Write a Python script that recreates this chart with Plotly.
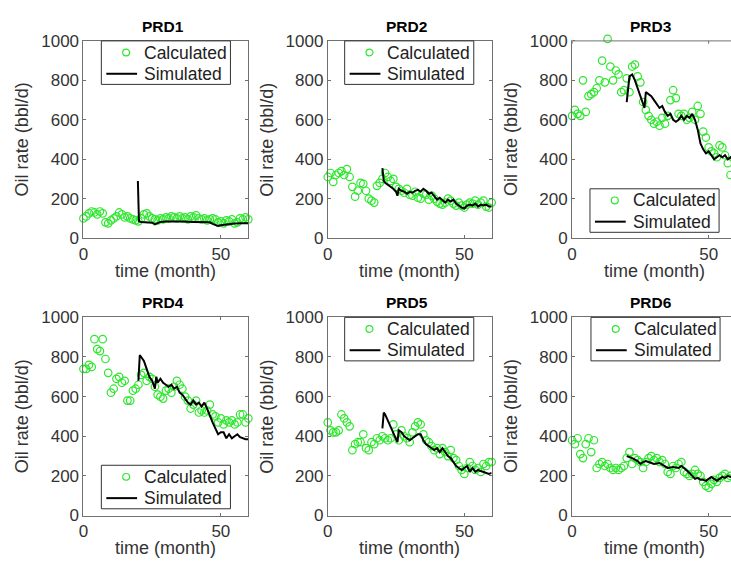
import plotly.graph_objects as go

W, H = 731, 570

names = ["PRD1", "PRD2", "PRD3", "PRD4", "PRD5", "PRD6"]
series_names = ["Calculated", "Simulated"]
t_calc = list(range(0, 61))

calc1 = [100, 110, 125, 135, 130, 120, 135, 125, 80, 75, 90, 100, 110, 130, 120, 105, 110, 100, 95, 90,
         85, 100, 120, 125, 110, 100, 95, 90, 100, 95, 105, 100, 110, 105, 100, 110, 100, 105, 95, 110,
         105, 115, 100, 95, 100, 90, 95, 100, 95, 80, 85, 75, 90, 85, 95, 75, 80, 100, 95, 105, 95]
calc2 = [310, 330, 285, 320, 330, 340, 320, 350, 310, 260, 210, 240, 280, 275, 240, 200, 190, 180, 265, 280,
         300, 330, 310, 290, 300, 260, 250, 240, 230, 250, 220, 215, 235, 205, 200, 225, 220, 195, 215, 200,
         185, 175, 170, 180, 200, 190, 175, 165, 180, 165, 155, 170, 180, 175, 190, 170, 180, 190, 160, 155, 180]
calc3 = [620, 650, 630, 620, 800, 640, 720, 730, 740, 760, 800, 900, 790, 1010, 870, 800, 850, 830, 740, 750,
         810, 740, 870, 880, 820, 790, 690, 650, 620, 600, 580, 590, 570, 610, 580, 620, 700, 750, 710, 630,
         620, 630, 600, 610, 640, 600, 670, 630, 540, 510, 460, 440, 430, 410, 470, 460, 420, 380, 320, 350, 400]
calc4 = [740, 740, 760, 750, 890, 840, 830, 890, 790, 720, 620, 640, 690, 700, 670, 680, 580, 580, 630, 640,
         660, 710, 720, 680, 700, 690, 650, 610, 600, 590, 630, 640, 620, 650, 680, 660, 640, 600, 580, 540,
         560, 580, 520, 530, 520, 530, 560, 510, 500, 470, 490, 460, 480, 470, 480, 460, 470, 510, 510, 470, 490]
calc5 = [470, 430, 420, 420, 430, 510, 490, 470, 450, 330, 360, 370, 370, 410, 340, 330, 370, 360, 390, 380,
         400, 390, 380, 390, 460, 410, 380, 430, 400, 390, 370, 420, 450, 470, 460, 410, 380, 370, 350, 330,
         340, 310, 340, 320, 300, 330, 290, 280, 250, 230, 210, 240, 270, 250, 230, 240, 220, 260, 250, 270, 270]
calc6 = [380, 360, 390, 310, 290, 360, 390, 320, 380, 240, 260, 270, 250, 260, 240, 230, 240, 230, 240, 250,
         290, 320, 260, 290, 280, 270, 240, 270, 290, 300, 280, 290, 270, 280, 260, 220, 210, 250, 240, 260,
         270, 220, 210, 200, 210, 230, 210, 200, 170, 150, 140, 160, 180, 170, 190, 200, 210, 190, 200, 210, 200]

t_sim1 = [19.8, 20.2, 21, 23, 25, 26, 27, 28, 30, 33, 36, 40, 44, 46, 47, 48, 49, 50, 52, 55, 58, 60]
sim1 = [290, 85, 82, 80, 78, 70, 78, 82, 84, 85, 84, 82, 82, 80, 72, 65, 62, 65, 70, 74, 75, 75]

t_sim2 = [20, 20.5, 21, 22, 23, 24, 25, 25.5, 26, 27, 28, 29, 30, 31, 32, 33, 34, 35, 36, 37, 38, 39, 40,
          41, 42, 43, 44, 45, 46, 47, 48, 49, 50, 51, 52, 53, 54, 55, 56, 57, 58, 59, 60]
sim2 = [355, 290, 280, 270, 260, 250, 235, 215, 250, 240, 235, 225, 235, 230, 240, 245, 235, 250, 240, 225,
        230, 215, 195, 205, 190, 180, 195, 185, 195, 175, 165, 155, 150, 165, 170, 165, 175, 160, 170, 165,
        170, 160, 160]

t_sim3 = [20, 21, 22, 23, 24, 25, 26, 26.5, 27, 28, 29, 30, 31, 32, 33, 34, 35, 36, 37, 38, 39, 40, 41, 42,
          43, 44, 45, 46, 47, 48, 49, 50, 51, 52, 53, 54, 55, 56, 57, 58, 59, 60]
sim3 = [690, 820, 830, 800, 760, 720, 680, 660, 740, 730, 720, 700, 680, 660, 670, 640, 620, 630, 600, 590,
        600, 620, 600, 620, 610, 630, 600, 550, 480, 450, 430, 440, 420, 400, 410, 420, 410, 420, 400, 410,
        390, 400]

t_sim4 = [20, 20.5, 21, 22, 23, 24, 25, 26, 26.5, 27, 28, 29, 30, 31, 32, 33, 34, 35, 36, 37, 38, 39, 40,
          41, 42, 43, 44, 45, 46, 47, 48, 49, 50, 51, 52, 53, 54, 55, 56, 57, 58, 59, 60]
sim4 = [680, 810, 800, 780, 740, 700, 680, 640, 700, 670, 690, 670, 660, 650, 660, 640, 650, 620, 610, 590,
        570, 560, 580, 560, 570, 550, 570, 540, 500, 470, 440, 410, 420, 420, 390, 410, 390, 400, 410, 395,
        390, 385, 385]

t_sim5 = [20, 20.5, 21, 22, 23, 24, 25, 25.5, 26, 27, 28, 29, 30, 31, 32, 33, 34, 35, 36, 37, 38, 39, 40,
          41, 42, 43, 44, 45, 46, 47, 48, 49, 50, 51, 52, 53, 54, 55, 56, 57, 58, 59, 60]
sim5 = [440, 520, 510, 480, 450, 420, 390, 370, 430, 420, 400, 390, 380, 390, 400, 410, 410, 380, 360, 350,
        340, 330, 340, 320, 340, 320, 300, 290, 270, 250, 240, 230, 240, 250, 220, 240, 220, 230, 225, 220,
        215, 210, 215]

t_sim6 = [20, 22, 24, 25, 26, 27, 28, 30, 32, 34, 35, 37, 39, 40, 41, 43, 44, 45, 46, 47, 48, 49, 50, 51,
          52, 53, 54, 55, 56, 57, 58, 60]
sim6 = [300, 290, 275, 260, 270, 275, 270, 260, 265, 250, 240, 245, 240, 250, 240, 215, 200, 185, 190, 180,
        180, 175, 185, 195, 185, 175, 185, 195, 190, 200, 195, 200]

calcs = [calc1, calc2, calc3, calc4, calc5, calc6]
t_sims = [t_sim1, t_sim2, t_sim3, t_sim4, t_sim5, t_sim6]
sims = [sim1, sim2, sim3, sim4, sim5, sim6]

y_ticks = [0, 200, 400, 600, 800, 1000]
x_ticks = [0, 50]
Y_MAX = 1000

# layout in pixels
col_x = [(79, 245), (325, 490), (571, 731)]
row_y = [(33, 237), (319, 524)]
x_ranges = [[0, 60], [0, 60], [0, 60 * (731 - 571) / (736 - 571)]]
# legend box top-left corners (px)
legend_pos = [(97, 33), (342, 33), (589, 186), (97, 472), (342, 319), (590, 319)]
LEG_W, LEG_H = 130, 45

GREEN = "#2ee62e"
AX = "#707070"
TXT = "#333333"
FONT = "Liberation Sans, Arial, sans-serif"


def px(x):
    return x / W


def py(y):
    return 1 - y / H


fig = go.Figure()
layout = dict(width=W, height=H, autosize=False, margin=dict(l=0, r=0, t=0, b=0),
              paper_bgcolor="white", plot_bgcolor="white", font=dict(family=FONT, color=TXT),
              annotations=[], shapes=[], showlegend=False)

for i in range(6):
    r, c = divmod(i, 3)
    n = i + 1
    xs = "x" if n == 1 else f"x{n}"
    ys = "y" if n == 1 else f"y{n}"
    fig.add_trace(go.Scatter(x=t_calc, y=calcs[i], mode="markers", name=series_names[0],
                             marker=dict(symbol="circle-open", size=7.5, color=GREEN,
                                         line=dict(width=1.2, color=GREEN)),
                             xaxis=xs, yaxis=ys, cliponaxis=False))
    fig.add_trace(go.Scatter(x=t_sims[i], y=sims[i], mode="lines", name=series_names[1],
                             line=dict(color="black", width=2),
                             xaxis=xs, yaxis=ys))
    x0, x1 = col_x[c]
    y0, y1 = row_y[r]
    # let markers slightly above the 1000 limit stay visible (as in MATLAB) by
    # extending the range a little while keeping 1000 at the box top
    ytop = max(Y_MAX, max(calcs[i]) + 5)
    ppu = (y1 - y0) / Y_MAX
    dom_top = y0 - (ytop - Y_MAX) * ppu
    extended = ytop > Y_MAX
    layout["xaxis" if n == 1 else f"xaxis{n}"] = dict(
        domain=[px(x0), px(x1)], anchor=ys, range=x_ranges[c], tickvals=x_ticks, ticks="inside", ticklen=3,
        showline=True, linecolor=AX, tickcolor=AX, linewidth=1, mirror=(False if extended else "ticks"),
        showgrid=False, zeroline=False, tickfont=dict(size=17, color=TXT, family=FONT))
    layout["yaxis" if n == 1 else f"yaxis{n}"] = dict(
        domain=[py(y1), py(dom_top)], anchor=xs, range=[0, ytop], tickvals=y_ticks, ticks="inside", ticklen=3,
        showline=True, linecolor=AX, tickcolor=AX, linewidth=1,
        mirror=("ticks" if c < 2 else False), showgrid=False, zeroline=False,
        tickfont=dict(size=17, color=TXT, family=FONT))
    if extended:
        # box top line at y = 1000, and the top tick marks
        layout["shapes"].append(dict(type="line", xref=f"{xs} domain", yref=ys, x0=0, x1=1,
                                     y0=Y_MAX, y1=Y_MAX, line=dict(color=AX, width=1), layer="above"))
        for tv in x_ticks:
            layout["shapes"].append(dict(type="line", xref=xs, yref=ys, x0=tv, x1=tv,
                                         y0=Y_MAX, y1=Y_MAX - 3 / ppu, line=dict(color=AX, width=1),
                                         layer="above"))
        # hide the part of the y axis line above 1000
        layout["shapes"].append(dict(type="line", xref=f"{xs} domain", yref=ys, x0=0, x1=0,
                                     y0=Y_MAX + 0.6 / ppu, y1=ytop, line=dict(color="white", width=2),
                                     layer="above"))

    # legend box drawn in pixel space
    lx, ly = legend_pos[i]
    layout["shapes"] += [
        dict(type="rect", xref="paper", yref="paper", x0=px(lx), x1=px(lx + LEG_W), y0=py(ly), y1=py(ly + LEG_H),
             line=dict(color="#333333", width=1), fillcolor="white", layer="above"),
        dict(type="circle", xref="paper", yref="paper", x0=px(lx + 21.5), x1=px(lx + 28.5),
             y0=py(ly + 8.5), y1=py(ly + 15.5), line=dict(color=GREEN, width=1.2), layer="above"),
        dict(type="line", xref="paper", yref="paper", x0=px(lx + 5), x1=px(lx + 36),
             y0=py(ly + 34), y1=py(ly + 34), line=dict(color="black", width=2), layer="above"),
    ]
    layout["annotations"] += [
        dict(text=series_names[0], x=px(lx + 41), y=py(ly + 12), xref="paper", yref="paper", showarrow=False,
             xanchor="left", yanchor="middle", font=dict(size=17.5, color="#222222", family=FONT)),
        dict(text=series_names[1], x=px(lx + 41), y=py(ly + 34), xref="paper", yref="paper", showarrow=False,
             xanchor="left", yanchor="middle", font=dict(size=17.5, color="#222222", family=FONT)),
    ]

    cx = (x0 + x1) / 2 if c < 2 else (x0 + 736) / 2
    layout["annotations"] += [
        dict(text="<b>" + names[i] + "</b>", x=px(cx - 3), y=py(y0 - 15), xref="paper", yref="paper",
             showarrow=False, font=dict(size=15.5, color="black", family=FONT), xanchor="center", yanchor="middle"),
        dict(text="time (month)", x=px(cx), y=py(y1 + 34), xref="paper", yref="paper",
             showarrow=False, font=dict(size=18, color=TXT, family=FONT), xanchor="center", yanchor="middle"),
        dict(text="Oil rate (bbl/d)", x=px(x0 - 61), y=py((y0 + y1) / 2), xref="paper", yref="paper",
             showarrow=False, textangle=-90, font=dict(size=18, color=TXT, family=FONT),
             xanchor="center", yanchor="middle"),
    ]

fig.update_layout(**layout)
fig.write_html("out.html")
